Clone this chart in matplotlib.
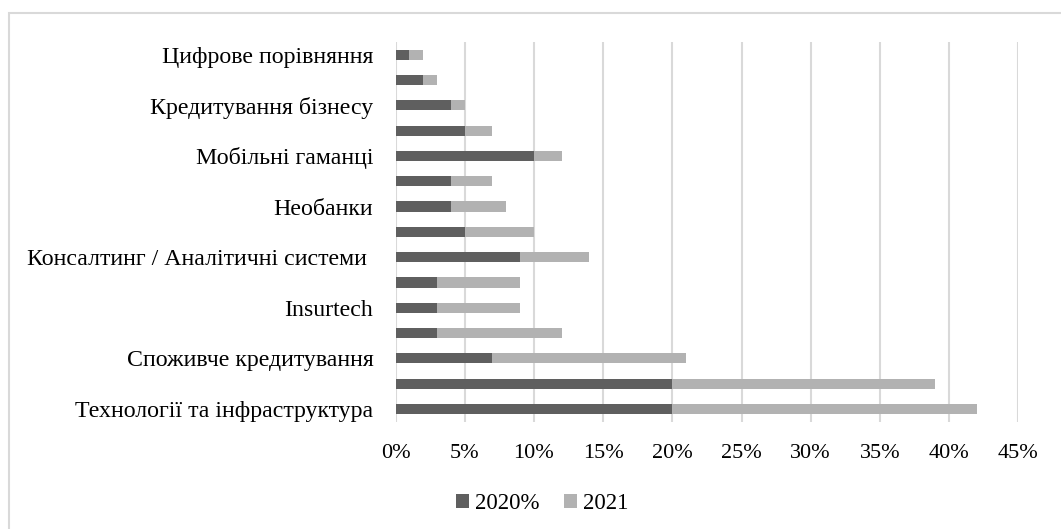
import matplotlib
matplotlib.use("Agg")
import matplotlib.pyplot as plt
from matplotlib.patches import Rectangle
import numpy as np

# Categories listed bottom-to-top; only every other row carries a visible label
categories = [
    "Технології та інфраструктура",
    "",
    "Споживче кредитування",
    "",
    "Insurtech",
    "",
    "Консалтинг / Аналітичні системи ",
    "",
    "Необанки",
    "",
    "Мобільні гаманці",
    "",
    "Кредитування бізнесу",
    "",
    "Цифрове порівняння",
]
share_2020 = [20, 20, 7, 3, 3, 3, 9, 5, 4, 4, 10, 5, 4, 2, 1]
share_2021 = [22, 19, 14, 9, 6, 6, 5, 5, 4, 3, 2, 2, 1, 1, 1]
series_names = ["2020%", "2021"]
x_ticks = [0, 5, 10, 15, 20, 25, 30, 35, 40, 45]

plt.rcParams["font.family"] = ["Liberation Serif", "DejaVu Serif"]

W, H = 1061, 529
fig = plt.figure(figsize=(W / 100, H / 100), dpi=100)
ax = fig.add_axes([395.5 / W, 1 - 421.7 / H, (1018.3 - 395.5) / W, (421.7 - 42) / H])

y = np.arange(len(categories))
dark = "#5f5f5f"
light = "#b2b2b2"
ax.barh(y, share_2020, height=0.4, color=dark, label=series_names[0], zorder=3)
ax.barh(y, share_2021, left=share_2020, height=0.4, color=light,
        label=series_names[1], zorder=3)

ax.set_xlim(0, 45)
ax.set_ylim(-0.5, len(categories) - 0.5)
ax.set_xticks(x_ticks)
ax.set_xticklabels([f"{v}%" for v in x_ticks])
ax.set_yticks(y)
ax.set_yticklabels(categories)

ax.grid(axis="x", color="#d9d9d9", linewidth=1.5, zorder=0)
for s in ax.spines.values():
    s.set_visible(False)
ax.tick_params(axis="both", length=0, colors="black")
ax.tick_params(axis="x", pad=16, labelsize=16)
ax.tick_params(axis="y", pad=16, labelsize=17.2)

leg = fig.legend(loc="center", bbox_to_anchor=(542 / W, 1 - 503.5 / H), ncol=2,
                 frameon=False, fontsize=16.5, handlelength=0.6, handleheight=0.62,
                 handletextpad=0.25, columnspacing=1.05)

# Outer chart frame
fig.add_artist(Rectangle((8.7 / W, -0.05), 1.2, 1 - 13 / H + 0.05,
                         transform=fig.transFigure, fill=False,
                         edgecolor="#d9d9d9", linewidth=1.5))

fig.savefig("out.png", dpi=100, facecolor="white")
